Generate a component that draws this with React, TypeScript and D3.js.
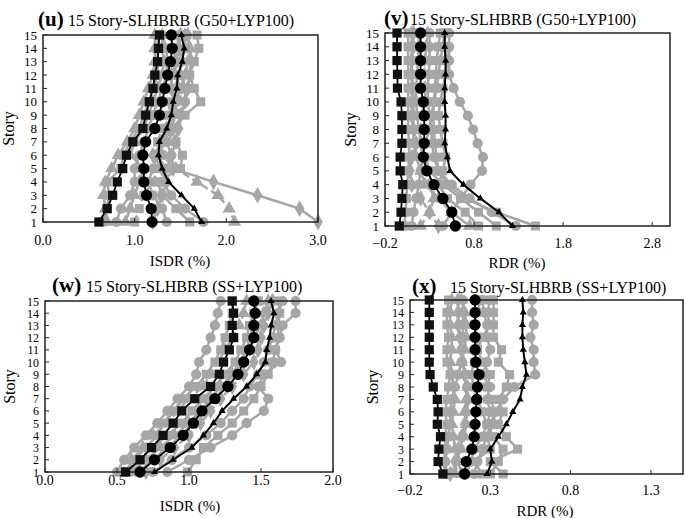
import React, { useEffect, useRef } from "react";
import * as d3 from "d3";

const stories = d3.range(1, 16);

// ---- (u) ISDR, G50+LYP100 (values listed story 1 -> 15)
const uTicks = [0, 1, 2, 3];
const uBlackSquare = [0.61, 0.7, 0.76, 0.81, 0.87, 0.91, 0.98, 1.09, 1.12, 1.16, 1.2, 1.22, 1.25, 1.26, 1.27];
const uBlackCircle = [1.19, 1.18, 1.13, 1.1, 1.1, 1.09, 1.12, 1.22, 1.27, 1.3, 1.33, 1.36, 1.39, 1.41, 1.4];
const uBlackTriangle = [1.73, 1.65, 1.51, 1.37, 1.3, 1.26, 1.27, 1.35, 1.4, 1.42, 1.46, 1.47, 1.52, 1.54, 1.51];
const uGray = [
  [3.0, 2.8, 2.34, 1.86, 1.42, 1.4, 1.45, 1.48, 1.5, 1.55, 1.58, 1.6, 1.62, 1.6, 1.58],
  [2.09, 2.03, 1.91, 1.68, 1.45, 1.3, 1.35, 1.4, 1.45, 1.5, 1.52, 1.55, 1.58, 1.6, 1.55],
  [1.6, 1.45, 1.3, 1.25, 1.5, 1.52, 1.45, 1.4, 1.55, 1.72, 1.65, 1.6, 1.65, 1.7, 1.68],
  [1.75, 1.55, 1.4, 1.3, 1.35, 1.4, 1.35, 1.45, 1.5, 1.55, 1.55, 1.5, 1.5, 1.55, 1.55],
  [0.7, 0.68, 0.66, 0.68, 0.75, 0.82, 0.92, 1.0, 1.05, 1.1, 1.15, 1.2, 1.22, 1.22, 1.22],
  [0.65, 0.7, 0.72, 0.7, 0.85, 0.88, 0.95, 1.05, 1.1, 1.15, 1.2, 1.25, 1.25, 1.25, 1.25],
  [0.8, 0.85, 0.95, 1.0, 1.0, 1.05, 1.1, 1.15, 1.2, 1.25, 1.3, 1.35, 1.35, 1.35, 1.3],
  [1.0, 1.05, 1.1, 1.2, 1.25, 1.3, 1.25, 1.3, 1.35, 1.4, 1.45, 1.45, 1.5, 1.5, 1.45],
  [1.35, 1.3, 1.2, 1.15, 1.2, 1.25, 1.3, 1.35, 1.4, 1.45, 1.5, 1.45, 1.42, 1.45, 1.5],
  [0.9, 0.95, 1.0, 1.05, 1.1, 0.95, 1.0, 1.1, 1.15, 1.2, 1.25, 1.3, 1.32, 1.3, 1.3],
  [1.2, 1.25, 1.3, 1.35, 1.3, 1.2, 1.3, 1.35, 1.4, 1.45, 1.4, 1.4, 1.45, 1.48, 1.5],
];

// ---- (v) RDR, G50+LYP100
const vTicks = [-0.2, 0.8, 1.8, 2.8];
const vBlackSquare = [-0.04, -0.02, -0.01, 0.0, -0.03, -0.03, -0.01, -0.01, -0.01, -0.02, -0.06, -0.06, -0.065, -0.065, -0.065];
const vBlackCircle = [0.59, 0.55, 0.45, 0.35, 0.27, 0.23, 0.24, 0.24, 0.24, 0.23, 0.2, 0.2, 0.2, 0.2, 0.2];
const vBlackTriangle = [1.23, 1.08, 0.87, 0.68, 0.53, 0.5, 0.47, 0.48, 0.48, 0.47, 0.47, 0.48, 0.48, 0.47, 0.47];
const vGray = [
  [0.45, 0.55, 0.65, 0.76, 0.89, 0.9, 0.84, 0.79, 0.73, 0.64, 0.57, 0.52, 0.52, 0.52, 0.52],
  [1.49, 1.05, 0.7, 0.5, 0.4, 0.38, 0.36, 0.35, 0.34, 0.35, 0.36, 0.37, 0.38, 0.4, 0.42],
  [1.27, 1.0, 0.75, 0.55, 0.4, 0.35, 0.33, 0.32, 0.3, 0.28, 0.28, 0.29, 0.3, 0.3, 0.3],
  [0.02, 0.03, 0.04, 0.05, 0.06, 0.07, 0.07, 0.06, 0.06, 0.06, 0.06, 0.06, 0.06, 0.06, 0.06],
  [0.75, 0.55, 0.4, 0.25, 0.2, 0.15, 0.12, 0.12, 0.12, 0.12, 0.12, 0.1, 0.1, 0.1, 0.1],
  [0.4, 0.3, 0.2, 0.1, 0.08, 0.1, 0.15, 0.12, 0.1, 0.1, 0.1, 0.1, 0.1, 0.12, 0.12],
  [0.85, 0.7, 0.5, 0.4, 0.45, 0.48, 0.45, 0.42, 0.4, 0.42, 0.45, 0.48, 0.5, 0.48, 0.47],
  [0.1, 0.12, 0.15, 0.18, 0.2, 0.22, 0.25, 0.3, 0.32, 0.35, 0.38, 0.4, 0.42, 0.45, 0.47],
  [0.2, 0.3, 0.35, 0.3, 0.25, 0.22, 0.2, 0.2, 0.22, 0.25, 0.25, 0.24, 0.25, 0.26, 0.28],
  [1.05, 0.85, 0.65, 0.45, 0.3, 0.25, 0.2, 0.18, 0.16, 0.15, 0.15, 0.16, 0.17, 0.18, 0.18],
];

// ---- (w) ISDR, SS+LYP100
const wTicks = [0, 0.5, 1, 1.5, 2];
const wBlackSquare = [0.56, 0.66, 0.74, 0.82, 0.89, 0.95, 1.04, 1.15, 1.21, 1.24, 1.28, 1.31, 1.3, 1.31, 1.3];
const wBlackCircle = [0.66, 0.76, 0.87, 0.96, 1.03, 1.09, 1.18, 1.27, 1.34, 1.38, 1.42, 1.45, 1.45, 1.46, 1.45];
const wBlackTriangle = [0.76, 0.89, 1.02, 1.1, 1.17, 1.23, 1.31, 1.4, 1.47, 1.53, 1.54, 1.56, 1.57, 1.59, 1.57];
const wGray = [
  [0.85, 1.0, 1.15, 1.3, 1.4, 1.52, 1.55, 1.48, 1.52, 1.64, 1.6, 1.63, 1.65, 1.74, 1.74],
  [0.99, 1.05, 1.1, 1.2, 1.3, 1.38, 1.45, 1.5, 1.55, 1.58, 1.6, 1.62, 1.62, 1.63, 1.62],
  [0.5, 0.55, 0.62, 0.7, 0.78, 0.85, 0.92, 1.0, 1.05, 1.07, 1.12, 1.15, 1.18, 1.2, 1.22],
  [0.55, 0.62, 0.7, 0.78, 0.82, 0.9, 0.96, 1.05, 1.12, 1.18, 1.22, 1.25, 1.28, 1.3, 1.3],
  [0.6, 0.7, 0.8, 0.9, 1.0, 1.08, 1.15, 1.22, 1.3, 1.38, 1.42, 1.45, 1.5, 1.52, 1.55],
  [0.7, 0.8, 0.9, 1.0, 1.08, 1.15, 1.22, 1.3, 1.38, 1.45, 1.48, 1.5, 1.52, 1.55, 1.58],
  [0.65, 0.75, 0.85, 0.95, 1.02, 1.1, 1.18, 1.25, 1.3, 1.35, 1.4, 1.42, 1.45, 1.45, 1.48],
  [0.75, 0.88, 1.0, 1.12, 1.22, 1.3, 1.38, 1.42, 1.48, 1.52, 1.55, 1.58, 1.6, 1.62, 1.65],
  [0.52, 0.6, 0.68, 0.75, 0.85, 0.92, 1.0, 1.1, 1.15, 1.2, 1.25, 1.3, 1.35, 1.38, 1.4],
  [0.58, 0.66, 0.75, 0.85, 0.95, 1.02, 1.1, 1.18, 1.25, 1.32, 1.36, 1.4, 1.42, 1.45, 1.48],
];

// ---- (x) RDR, SS+LYP100
const xTicks = [-0.2, 0.3, 0.8, 1.3];
const xBlackSquare = [0.005, -0.025, -0.02, -0.01, -0.03, -0.025, -0.03, -0.055, -0.075, -0.08, -0.08, -0.08, -0.08, -0.08, -0.08];
const xBlackCircle = [0.14, 0.15, 0.185, 0.2, 0.205, 0.21, 0.215, 0.22, 0.23, 0.21, 0.205, 0.205, 0.205, 0.205, 0.205];
const xBlackTriangle = [0.28, 0.31, 0.3, 0.35, 0.4, 0.44, 0.485, 0.5, 0.525, 0.515, 0.505, 0.5, 0.5, 0.505, 0.5];
const xGray = [
  [0.2, 0.22, 0.25, 0.28, 0.3, 0.33, 0.38, 0.45, 0.58, 0.57, 0.57, 0.55, 0.57, 0.56, 0.56],
  [0.38, 0.3, 0.47, 0.4, 0.35, 0.38, 0.35, 0.4, 0.42, 0.35, 0.37, 0.32, 0.32, 0.32, 0.32],
  [0.03, 0.02, 0.03, 0.04, 0.05, 0.05, 0.06, 0.08, 0.1, 0.12, 0.12, 0.13, 0.13, 0.13, 0.13],
  [0.02, 0.01, 0.02, 0.02, 0.03, 0.02, 0.03, 0.04, 0.05, 0.03, 0.03, 0.04, 0.03, 0.03, 0.04],
  [0.12, 0.1, 0.08, 0.07, 0.06, 0.07, 0.08, 0.07, 0.06, 0.05, 0.06, 0.06, 0.05, 0.05, 0.06],
  [0.05, 0.08, 0.1, 0.12, 0.14, 0.15, 0.16, 0.15, 0.14, 0.13, 0.12, 0.11, 0.1, 0.1, 0.1],
  [0.25, 0.2, 0.3, 0.28, 0.32, 0.33, 0.3, 0.28, 0.3, 0.25, 0.22, 0.22, 0.2, 0.22, 0.24],
  [0.15, 0.18, 0.2, 0.25, 0.28, 0.3, 0.28, 0.3, 0.25, 0.28, 0.3, 0.28, 0.28, 0.26, 0.25],
  [0.08, 0.1, 0.12, 0.14, 0.15, 0.14, 0.15, 0.16, 0.14, 0.12, 0.14, 0.15, 0.15, 0.14, 0.12],
  [0.3, 0.35, 0.38, 0.32, 0.28, 0.25, 0.22, 0.2, 0.18, 0.2, 0.22, 0.25, 0.3, 0.28, 0.3],
];

const GRAY = "#a6a6a6";
const FONT = "Liberation Serif, Times New Roman, serif";

const shapes: any = {
  circle: d3.symbolCircle,
  square: d3.symbolSquare,
  triangle: d3.symbolTriangle,
  diamond: d3.symbolDiamond,
};

// marker / dash per gray record
const grayStyleU = [
  ["diamond", false], ["triangle", true], ["square", false], ["circle", false], ["triangle", false],
  ["square", false], ["circle", false], ["square", true], ["circle", false], ["triangle", false], ["diamond", false],
];
const grayStyle = [
  ["circle", false], ["square", false], ["circle", false], ["square", false], ["triangle", false],
  ["diamond", true], ["square", false], ["circle", false], ["triangle", true], ["square", false],
];

const panels = [
  {
    tag: "(u)", title: "15 Story-SLHBRB (G50+LYP100)", xTitle: "ISDR (%)",
    domain: [0, 3], ticks: uTicks, left: 43, right: 318, top: 35, bottom: 222,
    tagX: 38, titleX: 68, titleY: 26, tickY: 245, xTitleX: 180, xTitleY: 266, storyX: 14, yFont: 13,
    gray: uGray, style: grayStyleU, black: [uBlackSquare, uBlackCircle, uBlackTriangle],
  },
  {
    tag: "(v)", title: "15 Story-SLHBRB (G50+LYP100)", xTitle: "RDR (%)",
    domain: [-0.2, 3.0], ticks: vTicks, left: 385, right: 670, top: 33, bottom: 226,
    tagX: 384, titleX: 410, titleY: 25, tickY: 248, xTitleX: 517, xTitleY: 268, storyX: 356, yFont: 13,
    gray: vGray, style: grayStyle, black: [vBlackSquare, vBlackCircle, vBlackTriangle],
  },
  {
    tag: "(w)", title: "15 Story-SLHBRB (SS+LYP100)", xTitle: "ISDR (%)",
    domain: [0, 2], ticks: wTicks, left: 45, right: 333, top: 301, bottom: 472,
    tagX: 52, titleX: 86, titleY: 292, tickY: 485, xTitleX: 190, xTitleY: 511, storyX: 15, yFont: 12,
    gray: wGray, style: grayStyle, black: [wBlackSquare, wBlackCircle, wBlackTriangle],
  },
  {
    tag: "(x)", title: "15 Story-SLHBRB (SS+LYP100)", xTitle: "RDR (%)",
    domain: [-0.2, 1.5], ticks: xTicks, left: 410, right: 683, top: 300, bottom: 474,
    tagX: 412, titleX: 450, titleY: 293, tickY: 495, xTitleX: 545, xTitleY: 516, storyX: 378, yFont: 12,
    gray: xGray, style: grayStyle, black: [xBlackSquare, xBlackCircle, xBlackTriangle],
  },
];

export default function App() {
  const ref = useRef<SVGSVGElement>(null);

  useEffect(() => {
    document.body.style.margin = "0";
    const svg = d3.select(ref.current);
    svg.selectAll("*").remove();

    panels.forEach((p) => {
      const x = d3.scaleLinear().domain(p.domain).range([p.left, p.right]);
      const y = d3.scaleLinear().domain([1, 15]).range([p.bottom, p.top]);
      const g = svg.append("g");
      const line = d3.line<number>().x((d) => x(d)).y((d, i) => y(stories[i]));

      // gray records
      p.gray.forEach((vals, k) => {
        const [shape, dashed] = p.style[k];
        g.append("path")
          .attr("d", line(vals))
          .attr("fill", "none")
          .attr("stroke", GRAY)
          .attr("stroke-width", 2.5)
          .attr("stroke-dasharray", dashed ? "7,4" : null);
        const size = shape === "triangle" ? 75 : shape === "diamond" ? 80 : 82;
        g.selectAll(null)
          .data(vals)
          .join("path")
          .attr("d", d3.symbol().type(shapes[shape as string]).size(size))
          .attr("transform", (d, i) => `translate(${x(d)},${y(stories[i])})`)
          .attr("fill", GRAY);
      });

      // frame
      g.append("rect")
        .attr("x", p.left).attr("y", p.top)
        .attr("width", p.right - p.left).attr("height", p.bottom - p.top)
        .attr("fill", "none").attr("stroke", "#222").attr("stroke-width", 1.5);

      // y ticks (inward) and labels
      stories.forEach((s) => {
        g.append("line")
          .attr("x1", p.left).attr("x2", p.left + 4)
          .attr("y1", y(s)).attr("y2", y(s))
          .attr("stroke", "#222").attr("stroke-width", 1);
        g.append("text")
          .attr("x", p.left - 6).attr("y", y(s) + 4.5)
          .attr("text-anchor", "end")
          .attr("font-family", FONT).attr("font-size", p.yFont)
          .text(s);
      });

      // x ticks (inward) and labels
      p.ticks.forEach((t) => {
        g.append("line")
          .attr("x1", x(t)).attr("x2", x(t))
          .attr("y1", p.bottom).attr("y2", p.bottom - 4)
          .attr("stroke", "#222").attr("stroke-width", 1);
        g.append("text")
          .attr("x", x(t)).attr("y", p.tickY)
          .attr("text-anchor", "middle")
          .attr("font-family", FONT).attr("font-size", 14)
          .text(d3.format(".1f")(t));
      });

      // black statistics lines
      const [sq, ci, tr] = p.black;
      g.append("path").attr("d", line(sq)).attr("fill", "none").attr("stroke", "#000").attr("stroke-width", 1.8);
      g.selectAll(null).data(sq).join("path")
        .attr("d", d3.symbol().type(d3.symbolSquare).size(85))
        .attr("transform", (d, i) => `translate(${x(d)},${y(stories[i])})`)
        .attr("fill", "#111");
      g.append("path").attr("d", line(ci)).attr("fill", "none").attr("stroke", "#000").attr("stroke-width", 1.8);
      g.selectAll(null).data(ci).join("path")
        .attr("d", d3.symbol().type(d3.symbolCircle).size(100))
        .attr("transform", (d, i) => `translate(${x(d)},${y(stories[i])})`)
        .attr("fill", "#000");
      g.append("path").attr("d", line(tr)).attr("fill", "none").attr("stroke", "#000").attr("stroke-width", 2);
      g.selectAll(null).data(tr).join("path")
        .attr("d", d3.symbol().type(d3.symbolTriangle).size(22))
        .attr("transform", (d, i) => `translate(${x(d)},${y(stories[i])})`)
        .attr("fill", "#000");

      // titles
      g.append("text")
        .attr("x", p.tagX).attr("y", p.titleY)
        .attr("font-family", FONT).attr("font-size", 21).attr("font-weight", "bold")
        .text(p.tag);
      g.append("text")
        .attr("x", p.titleX).attr("y", p.titleY)
        .attr("font-family", FONT).attr("font-size", 16)
        .text(p.title);
      g.append("text")
        .attr("x", p.xTitleX).attr("y", p.xTitleY)
        .attr("text-anchor", "middle")
        .attr("font-family", FONT).attr("font-size", 15)
        .text(p.xTitle);
      g.append("text")
        .attr("transform", `translate(${p.storyX},${(p.top + p.bottom) / 2}) rotate(-90)`)
        .attr("text-anchor", "middle")
        .attr("font-family", FONT).attr("font-size", 16)
        .text("Story");
    });
  }, []);

  return (
    <div>
      <svg ref={ref} width={685} height={518} style={{ display: "block", background: "#fff" }}></svg>
    </div>
  );
}
